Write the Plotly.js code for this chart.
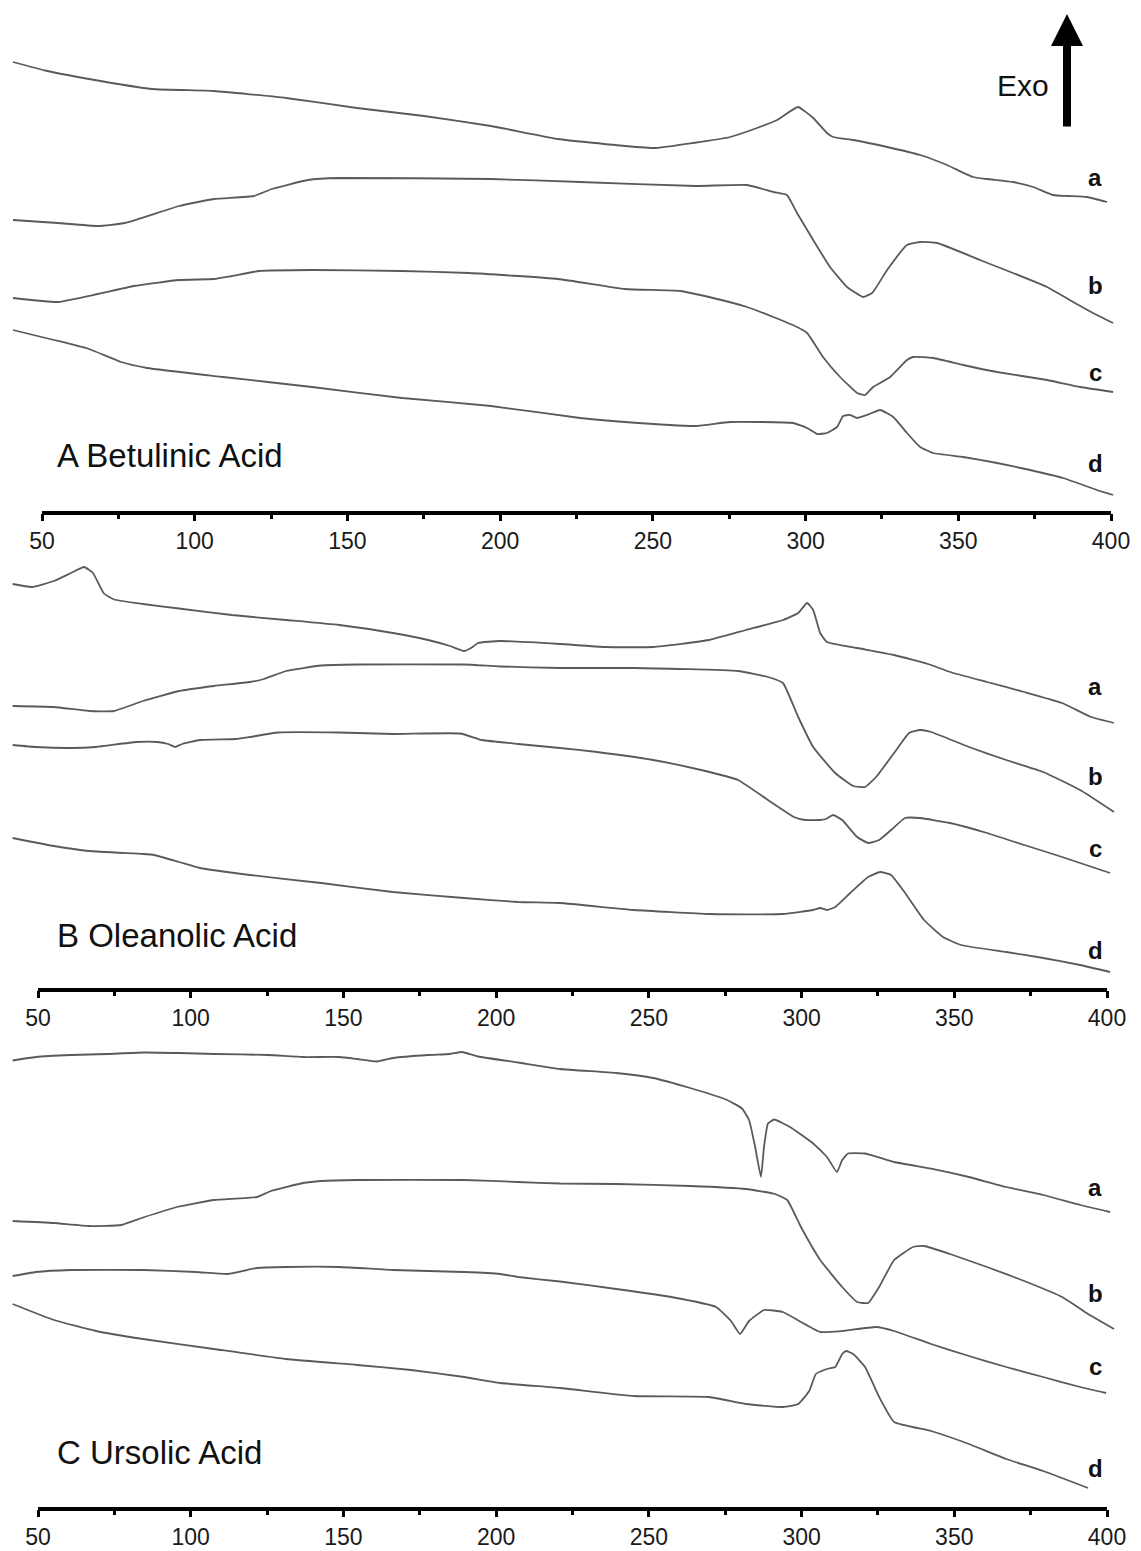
<!DOCTYPE html>
<html>
<head>
<meta charset="utf-8">
<script src="https://cdn.plot.ly/plotly-3.0.1.min.js"></script>
<style>html,body{margin:0;padding:0;background:#fff;}#chart{width:1141px;height:1551px;}</style>
</head>
<body>
<div id="chart"></div>
<script>
// Temperature (°C) and heat-flow (arbitrary units, offset per curve, exo up)
// ---- Panel A: Betulinic Acid ----
var A_a_T = [40.5,51.0,65.4,86.0,106.3,129.9,153.1,175.1,197.0,219.0,240.9,251.0,263.2,275.3,284.1,290.7,297.5,302.5,307.0,309.0,315.6,326.7,337.5,346.3,354.8,359.4,367.9,374.5,381.0,385.6,392.2,398.7];
var A_a_y = [451,442.5,434,424,422,415,405,397,387,374,367,365,370,376,385,393,406,395,380,376,373,366,358,348,336,334,331,326,318,317,316,311];
var A_b_T = [40.5,55.2,68.3,77.2,94.9,106.3,119.4,125.3,137.1,147.3,197.0,226.2,264.1,280.8,289.4,293.9,297.2,302.5,308.0,313.6,318.8,321.8,326.7,333.2,337.5,343.1,357.1,367.9,379.1,387.6,394.1,400.7];
var A_b_y = [293,290,287,290,307,314,317,324,333,335,334,331,327,328,321,318,300,273,246,226,216,220,243,268,271,270,253,240,226,211,200,190];
var A_c_T = [40.5,55.2,68.3,80.1,94.9,106.3,112.2,121.1,138.4,167.9,189.8,219.0,240.9,258.9,269.7,280.8,289.4,297.2,300.5,305.7,311.3,316.9,319.5,322.1,327.7,333.2,335.2,341.8,351.6,362.7,379.1,389.9,400.7];
var A_c_y = [215,211,219,227,233,234,237,242,243,242,240,234,224,222,215,206,196,186,180,156,136,120,118,126,136,153,156,155,148,141,133,126,121];
var A_d_T = [40.5,53.9,65.4,75.9,84.4,109.3,138.4,167.9,197.0,226.2,240.9,264.1,275.3,295.9,300.5,303.8,307.0,310.3,312.3,314.6,316.9,320.1,324.4,328.7,333.2,337.5,341.8,351.6,362.7,373.5,384.3,395.4,400.7];
var A_d_y = [183,173,164,151,145,136,126,115,107,95,91,87,91,90,85,79,80,86,97,98,95,98,103,96,80,66,60,56,50,43,35,23,18];

// ---- Panel B: Oleanolic Acid ----
var B_a_T = [41.7,48.0,55.2,60.8,65.1,68.0,71.6,74.9,84.4,96.2,113.5,131.2,148.6,166.2,177.7,184.9,189.5,191.8,194.1,201.3,220.9,235.7,251.4,269.7,281.8,293.9,298.9,301.8,303.8,306.1,308.3,318.2,330.3,342.4,348.6,360.7,372.9,385.3,394.8,402.3];
var B_a_y = [406,403,409,417,423,417,396.5,390.5,386,381.5,375,370,365,357,350,344,339,342,347,349,346,343,343,350,360,370,377,387,380,357,348,342,335,325,318,308,298,287,273,267];
var B_b_T = [41.7,55.2,66.7,74.9,84.4,96.2,107.6,119.4,124.0,131.2,142.7,154.5,189.5,201.3,220.9,245.2,279.2,289.0,293.9,298.9,303.8,311.0,316.9,320.8,324.4,330.3,335.2,338.8,342.4,354.8,367.0,379.1,391.2,402.3];
var B_b_y = [284,283,279,279,289,299,304,308,311,319,324.5,325.5,325.5,323.5,322,322,319,313,307,273,243,217,204,203,213,237,257,260,258,243,230,218,200,178];
var B_c_T = [41.7,49.3,60.8,69.0,82.1,89.0,92.6,94.9,97.2,103.0,114.8,119.4,128.6,148.6,166.2,188.2,195.4,207.2,220.9,233.0,251.4,267.1,279.2,289.0,297.5,301.1,306.1,308.0,310.3,313.3,318.2,321.8,325.4,329.3,333.9,338.8,348.6,360.7,372.9,385.3,401.0];
var B_c_y = [245,243,242,243,248,248,246,243,246,250,251,253,257.5,257.5,256,256.5,250,246,242,238,230,220,210,190,173,170,170,171,175,170,153,147,150,160,172,172,167,157,145,133,117];
var B_d_T = [41.7,55.2,66.7,84.4,88.0,96.2,103.0,119.4,142.7,166.2,189.5,207.2,220.9,245.2,269.7,293.9,303.8,306.1,308.3,311.0,315.9,321.8,325.7,329.3,333.9,340.1,346.3,352.2,367.0,379.1,391.2,401.0];
var B_d_y = [152,144,139,136,135,128,122,115,107,98,92,88,87,80,76,76,80,82,80,83,97,113,118,115,97,70,53,45,38,32,25,18];

// ---- Panel C: Ursolic Acid ----
var C_a_T = [41.7,49.3,60.8,72.6,84.4,96.2,107.6,125.3,136.8,148.6,154.5,161.0,166.2,177.7,184.9,188.8,194.1,207.2,220.9,239.3,251.4,263.5,275.6,280.5,282.8,284.8,286.7,287.7,289.0,291.0,296.2,303.8,308.3,311.6,313.3,315.2,320.8,330.3,342.4,354.8,367.0,379.1,391.2,401.0];
var C_a_y = [448.5,452,454,455,456.5,456,455,454,452,452,450,447.5,451,454,455,457,452.5,446.5,440,436,431,421,409,400.5,389,362,332,362,385.5,389.5,382,365.5,352,337,349,355.5,355.5,347,340.4,332,322,314,304,297];
var C_b_T = [41.7,55.2,66.7,77.2,84.4,96.2,107.6,121.7,126.3,136.8,142.7,154.5,189.5,207.2,220.9,239.3,263.5,281.8,291.3,295.3,299.8,306.1,313.3,318.2,321.8,325.4,330.3,336.5,340.1,348.6,360.7,372.9,385.3,393.8,402.3];
var C_b_y = [288,286,283,284,291.5,302.5,309,312,318,326,328,329,329,327,325.5,325,323,320,315,309,282,249,222,207,206,222,249,262,263,255,242,228,212,195,180];
var C_c_T = [41.7,49.3,60.8,84.4,101.7,112.2,121.7,131.2,148.6,166.2,189.5,201.3,207.2,220.9,239.3,257.3,272.0,276.9,279.9,282.8,287.7,293.9,299.8,306.1,313.3,324.4,330.3,342.4,354.8,367.0,379.1,391.2,399.7];
var C_c_y = [233,237,239,239,237,235,241,242,242,239,237,235,232,227.5,220,212,202,188,175,188,199,197,187,177,178,182,178,165,153,142,132,122,116];
var C_d_T = [41.7,55.2,69.0,84.4,107.6,131.2,154.5,172.1,189.5,201.3,220.9,245.2,269.7,281.8,293.9,298.9,302.5,304.7,308.3,311.0,313.3,314.6,316.9,320.8,325.4,330.3,342.4,354.8,367.0,379.1,393.8];
var C_d_y = [205,189,178,170,160,150,144,139,132,126,121,113,112,105,102,105,118,135,140,142,155,158,155,142,112,87,78,65,50,38,21];

var curveLabels = ['a','b','c','d'];
var panelTitles = ['A Betulinic Acid','B Oleanolic Acid','C Ursolic Acid'];
var tickValues = [50,100,150,200,250,300,350,400];
var minorTickValues = [75,125,175,225,275,325,375];

var panels = [
  {curves:[[A_a_T,A_a_y],[A_b_T,A_b_y],[A_c_T,A_c_y],[A_d_T,A_d_y]], lab:[336,228,141,50], labT:394.8, titleT:54.3, titleY:58},
  {curves:[[B_a_T,B_a_y],[B_b_T,B_b_y],[B_c_T,B_c_y],[B_d_T,B_d_y]], lab:[304,214,142,40], labT:396.1, titleT:55.6, titleY:55},
  {curves:[[C_a_T,C_a_y],[C_b_T,C_b_y],[C_c_T,C_c_y],[C_d_T,C_d_y]], lab:[322,216,143,41], labT:396.1, titleT:55.6, titleY:57}
];

var H = 1551;
var axisPx = [513, 990, 1509];
var topPx = [0, 560, 1030];
var ranges = [[36.25, 409.82],[37.56, 411.13],[37.56, 411.13]];
var yRanges = [[0,513],[0,430],[0,479]];

var data = [];
var annotations = [];
var shapes = [];
var layout = {
  width:1141, height:1551,
  margin:{l:0,r:0,t:0,b:0,pad:0},
  paper_bgcolor:'#ffffff', plot_bgcolor:'rgba(0,0,0,0)',
  showlegend:false,
  font:{family:'"Liberation Sans", Arial, sans-serif', color:'#111'}
};

panels.forEach(function(p, i){
  var sx = i===0 ? '' : String(i+1);
  var xa = 'x'+sx, ya = 'y'+sx;
  p.curves.forEach(function(c){
    data.push({type:'scatter', mode:'lines', x:c[0], y:c[1], xaxis:xa, yaxis:ya,
      line:{color:'#5a5a5a', width:1.8, shape:'spline', smoothing:0.4}, hoverinfo:'skip'});
  });
  layout['xaxis'+sx] = {
    domain:[0,1], anchor:ya, range:ranges[i],
    showgrid:false, zeroline:false, showline:false,
    tickmode:'array', tickvals:tickValues, ticks:'outside', ticklen:7, tickwidth:3, tickcolor:'#000',
    ticklabelstandoff:0,
    tickfont:{size:23, color:'#1a1a1a', family:'"Liberation Sans", Arial, sans-serif'},
    minor:{tickvals:minorTickValues, ticks:'outside', ticklen:5, tickwidth:3, tickcolor:'#000'},
    fixedrange:true
  };
  layout['yaxis'+sx] = {
    domain:[1-axisPx[i]/H, 1-topPx[i]/H], anchor:xa, range:yRanges[i], visible:false, fixedrange:true
  };
  shapes.push({type:'line', xref:xa, yref:'paper', x0:50, x1:400, y0:1-axisPx[i]/H, y1:1-axisPx[i]/H,
    line:{color:'#000', width:4}});
  p.lab.forEach(function(v, k){
    annotations.push({xref:xa, yref:ya, x:p.labT, y:v, text:'<b>'+curveLabels[k]+'</b>', showarrow:false,
      font:{size:24, color:'#111'}, xanchor:'center', yanchor:'middle'});
  });
  annotations.push({xref:xa, yref:ya, x:p.titleT, y:p.titleY, text:panelTitles[i], showarrow:false,
    font:{size:33, color:'#111'}, xanchor:'left', yanchor:'middle'});
});

annotations.push({xref:'paper', yref:'paper', x:1023/1141, y:1-86/H, text:'Exo', showarrow:false,
  font:{size:30, color:'#111'}, xanchor:'center', yanchor:'middle'});
annotations.push({xref:'paper', yref:'paper', x:1067/1141, y:1-14/H, ax:0, ay:114, text:'',
  showarrow:true, arrowhead:2, arrowwidth:8, arrowsize:0.8, arrowcolor:'#000', standoff:0});

layout.annotations = annotations;
layout.shapes = shapes;

Plotly.newPlot('chart', data, layout, {displayModeBar:false, staticPlot:true});
</script>
</body>
</html>
